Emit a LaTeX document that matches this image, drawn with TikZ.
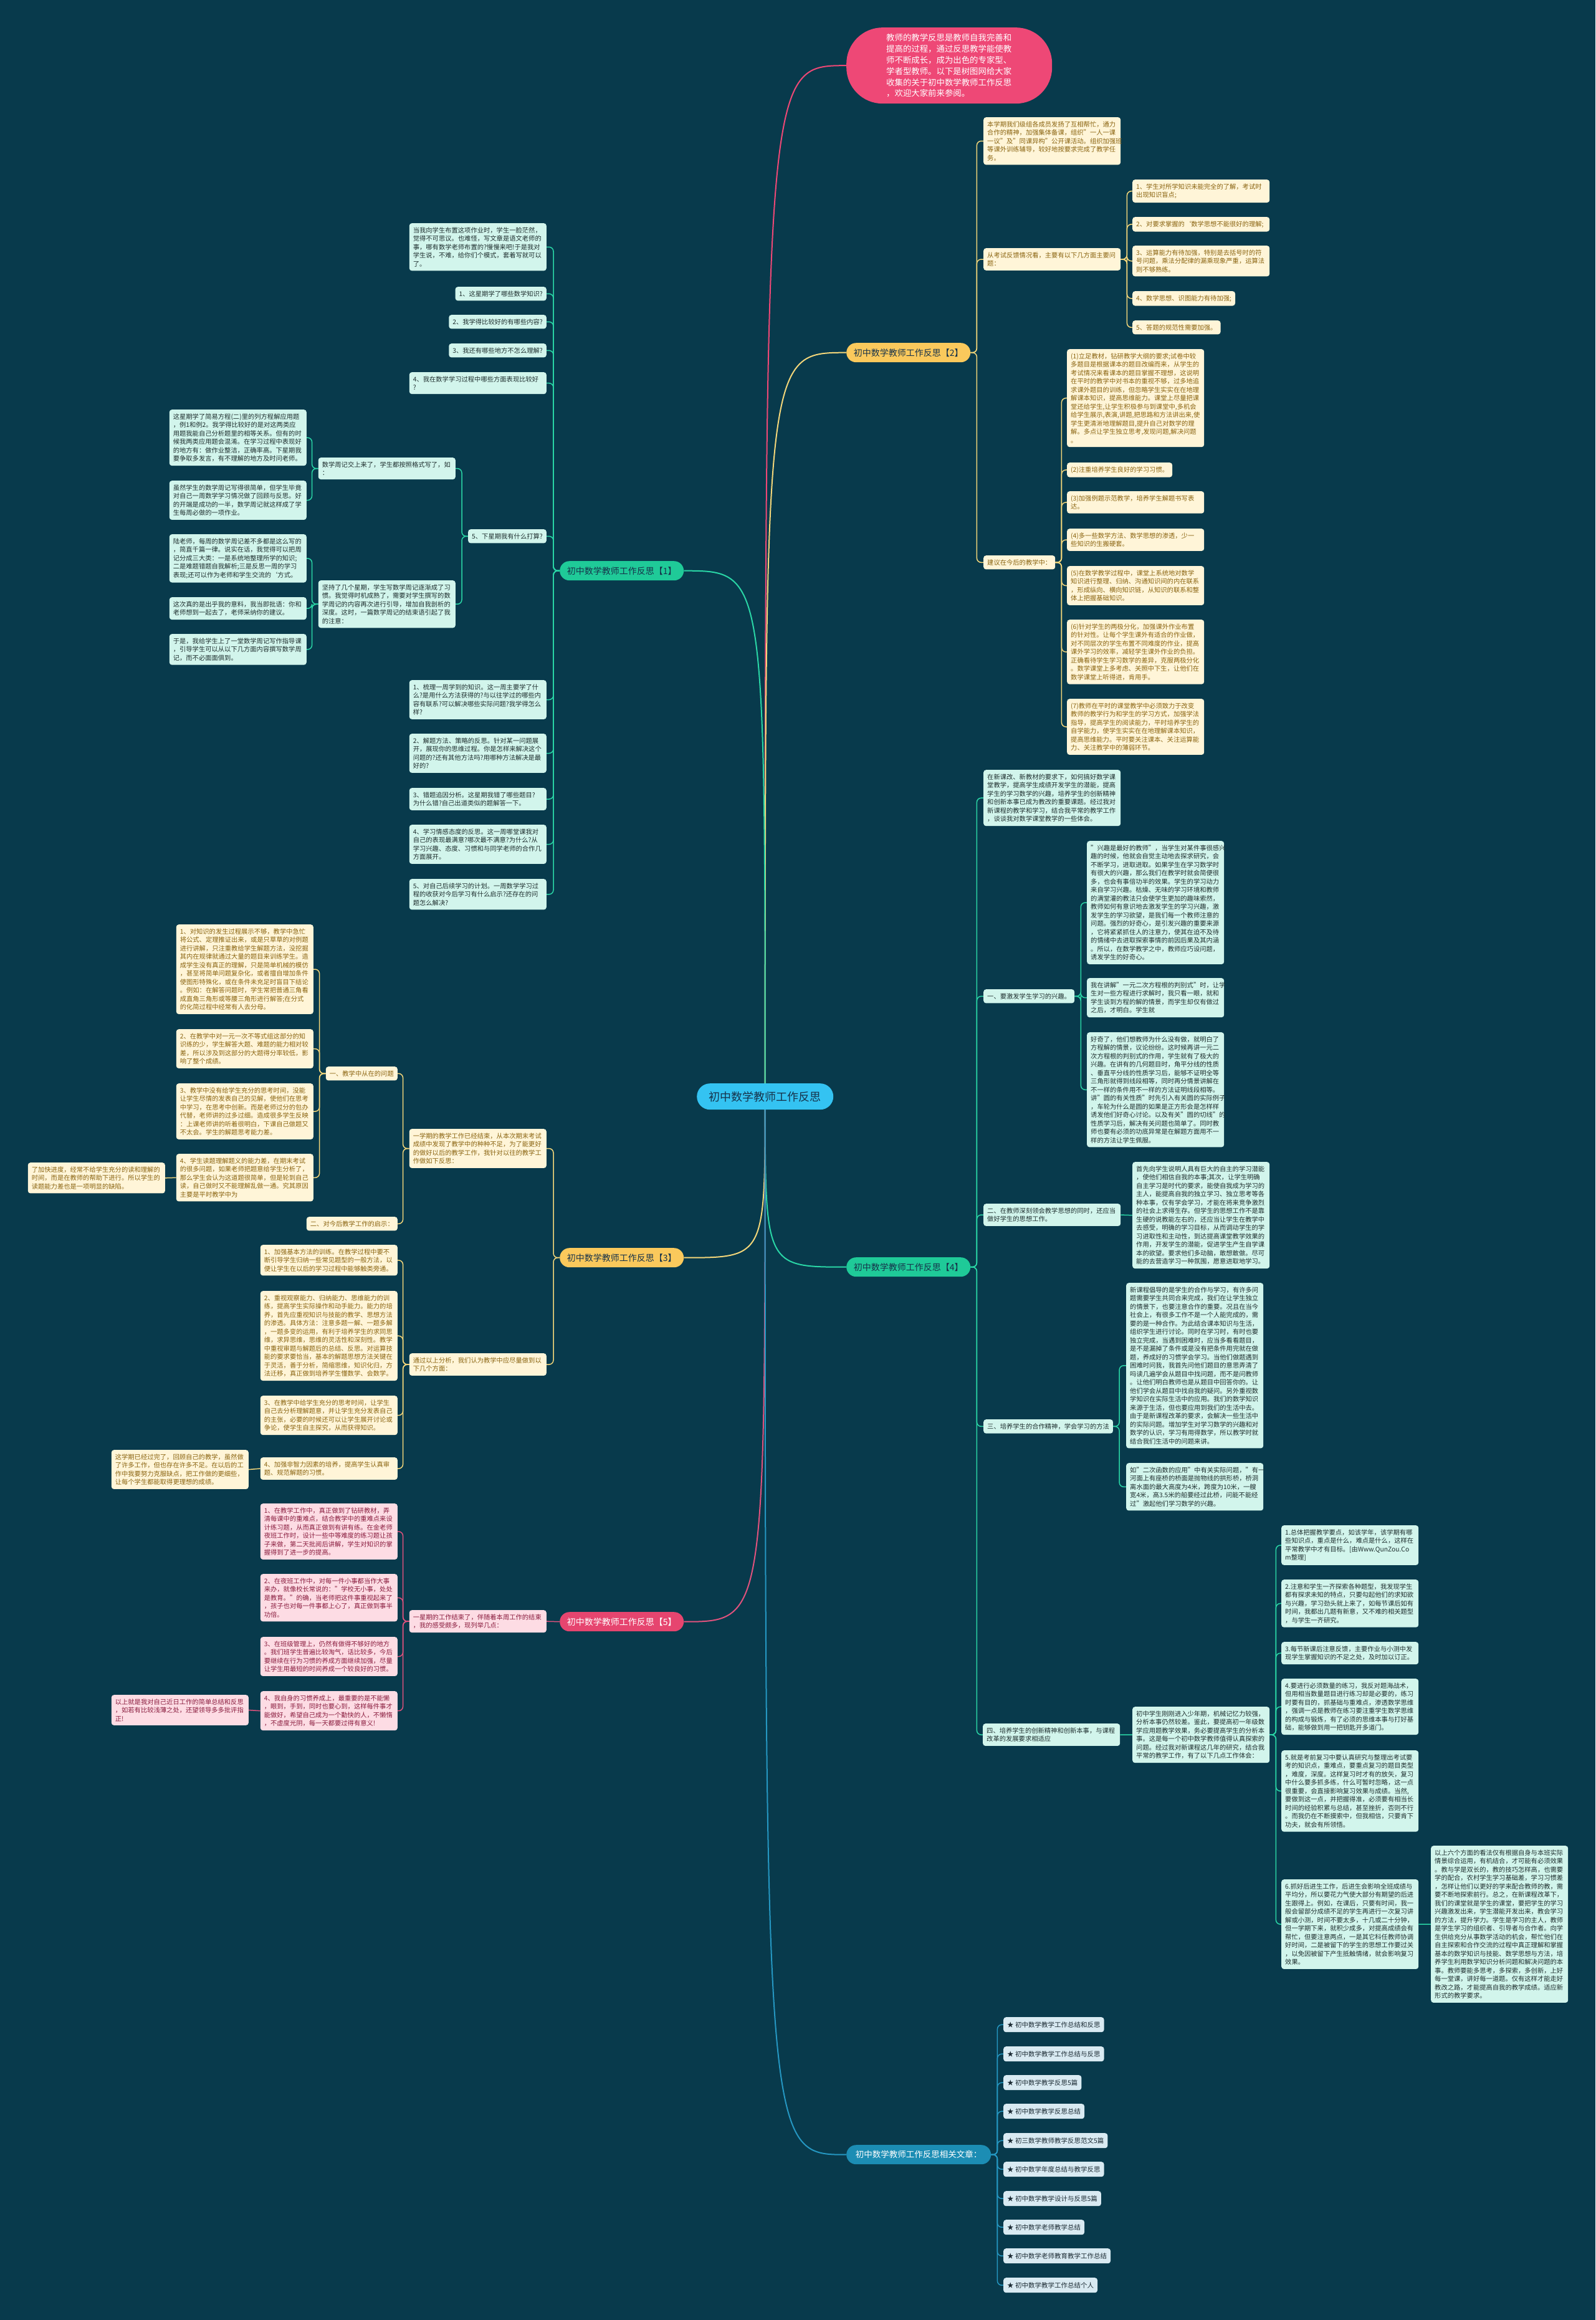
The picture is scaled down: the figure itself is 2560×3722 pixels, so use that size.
\documentclass[tikz,border=0pt]{standalone}
\usepackage{fontspec}
\setmainfont{Noto Sans CJK SC}
\usetikzlibrary{calc}
\definecolor{bgc}{HTML}{083A4C}
\definecolor{topc}{HTML}{EE4876}
\definecolor{rootc}{HTML}{34C3F2}
\definecolor{rootT}{HTML}{16324A}
\definecolor{grnN}{HTML}{1FCA98}
\definecolor{grnL}{HTML}{2AD6A6}
\definecolor{grnF}{HTML}{D2F5EC}
\definecolor{grnT}{HTML}{1E2E2E}
\definecolor{ylwN}{HTML}{FAC95C}
\definecolor{ylwL}{HTML}{F3D67A}
\definecolor{ylwF}{HTML}{FFF5D8}
\definecolor{ylwT}{HTML}{8A6410}
\definecolor{pnkN}{HTML}{E6456F}
\definecolor{pnkL}{HTML}{E0527D}
\definecolor{pnkF}{HTML}{FDDCE4}
\definecolor{pnkT}{HTML}{8A1C3E}
\definecolor{bluN}{HTML}{1C8DB4}
\definecolor{bluL}{HTML}{2597C2}
\definecolor{bluF}{HTML}{D9EAF2}
\definecolor{bluT}{HTML}{1B2A33}
\newcommand{\myfs}{\fontsize{10.3}{13.5}\selectfont}
\pgfdeclarelayer{bgl}
\pgfdeclarelayer{lnl}
\pgfsetlayers{bgl,lnl,main}
\newcommand{\conR}[3]{\draw[sub,#1] (#2.east) -- ++(10,0) |- (#3.west);}
\newcommand{\conL}[3]{\draw[sub,#1] (#2.west) -- ++(-10,0) |- (#3.east);}
\newcommand{\curveR}[2]{\draw[mainln,#1] (root.center) .. controls (root.center |- #2.west) .. (#2.west);}
\newcommand{\curveL}[2]{\draw[mainln,#1] (root.center) .. controls (root.center |- #2.east) .. (#2.east);}
\tikzset{
  sub/.style={line width=1.5pt, rounded corners=7pt},
  mainln/.style={line width=2pt},
  boxbase/.style={rounded corners=4pt, inner xsep=6pt, inner ysep=6.3pt, align=left, font=\myfs},
  gbx/.style={boxbase, fill=grnF, text=grnT, text width=208pt},
  gsb/.style={boxbase, fill=grnF, text=grnT},
  ybx/.style={boxbase, fill=ylwF, text=ylwT, text width=208pt},
  ysb/.style={boxbase, fill=ylwF, text=ylwT},
  pbx/.style={boxbase, fill=pnkF, text=pnkT, text width=208pt},
  psb/.style={boxbase, fill=pnkF, text=pnkT},
  bitem/.style={boxbase, fill=bluF, text=bluT, minimum height=24pt, inner ysep=4pt, font=\fontsize{10.5}{13}\selectfont},
  brn/.style={rounded corners=15.5pt, minimum height=31pt, minimum width=199pt, inner xsep=8pt, font=\fontsize{14}{16}\selectfont},
}
\begin{document}
\begin{tikzpicture}[x=1pt,y=-1pt]
\begin{pgfonlayer}{bgl}
\fill[bgc] (0,0) rectangle (2560,3722);
\end{pgfonlayer}
\useasboundingbox (0,0) rectangle (2560,3722);

% ---------- root and top ----------
\node[fill=rootc, text=rootT, rounded corners=21pt, minimum width=219pt, minimum height=42pt, font=\fontsize{18}{20}\selectfont, anchor=north west] (root) at (1118,1738) {初中数学教师工作反思};
\node[fill=topc, text=white, rounded corners=58pt, minimum width=330pt, minimum height=122pt, text width=202pt, align=left, font=\fontsize{13.4}{17.9}\selectfont, anchor=north west] (top) at (1358,44) {教师的教学反思是教师自我完善和\\提高的过程，通过反思教学能使教\\师不断成长，成为出色的专家型、\\学者型教师。以下是树图网给大家\\收集的关于初中数学教师工作反思\\，欢迎大家前来参阅。};

% ---------- branch nodes ----------
\node[brn, fill=grnN, text=rootT, anchor=north west] (b1) at (898,900) {初中数学教师工作反思【1】};
\node[brn, fill=ylwN, text=rootT, anchor=north west] (b2) at (1358,550) {初中数学教师工作反思【2】};
\node[brn, fill=ylwN, text=rootT, anchor=north west] (b3) at (898,2002) {初中数学教师工作反思【3】};
\node[brn, fill=grnN, text=rootT, anchor=north west] (b4) at (1358,2017) {初中数学教师工作反思【4】};
\node[brn, fill=pnkN, text=white, anchor=north west] (b5) at (898,2586) {初中数学教师工作反思【5】};
\node[brn, fill=bluN, text=white, minimum width=232pt, font=\fontsize{13.5}{16}\selectfont, anchor=north west] (rel) at (1358,3441) {初中数学教师工作反思相关文章：};

% ---------- branch 1 ----------
\node[gbx, anchor=north east] (c1a) at (877,358) {当我向学生布置这项作业时，学生一脸茫然，\\觉得不可思议。也难怪，写文章是语文老师的\\事，哪有数学老师布置的?慢慢来吧!于是我对\\学生说，不难，给你们个模式，套着写就可以\\了。};
\node[gsb, anchor=north east] (q1) at (877,460) {1、这星期学了哪些数学知识?};
\node[gsb, anchor=north east] (q2) at (877,505) {2、我学得比较好的有哪些内容?};
\node[gsb, anchor=north east] (q3) at (877,551) {3、我还有哪些地方不怎么理解?};
\node[gbx, anchor=north east] (q4) at (877,597) {4、我在数学学习过程中哪些方面表现比较好\\?};
\node[gsb, anchor=north east] (q5) at (877,849) {5、下星期我有什么打算?};
\node[gbx, anchor=north east] (zj) at (731,734) {数学周记交上来了，学生都按照格式写了，如\\：};
\node[gbx, anchor=north east] (jc) at (731,931) {坚持了几个星期，学生写数学周记逐渐成了习\\惯。我觉得时机成熟了，需要对学生撰写的数\\学周记的内容再次进行引导，增加自我剖析的\\深度。这时，一篇数学周记的结束语引起了我\\的注意：};
\node[gbx, anchor=north east] (a1) at (492,657) {这星期学了简易方程(二)里的列方程解应用题\\，例1和例2。我学得比较好的是对这两类应\\用题我能自己分析题里的相等关系。但有的时\\候我两类应用题会混淆。在学习过程中表现好\\的地方有：做作业整洁，正确率高。下星期我\\要争取多发言，有不理解的地方及时问老师。};
\node[gbx, anchor=north east] (a2) at (492,771) {虽然学生的数学周记写得很简单，但学生毕竟\\对自己一周数学学习情况做了回顾与反思。好\\的开端是成功的一半，数学周记就这样成了学\\生每周必做的一项作业。};
\node[gbx, anchor=north east] (d1) at (492,857) {陆老师，每周的数学周记差不多都是这么写的\\，简直千篇一律。说实在话，我觉得可以把周\\记分成三大类：一是系统地整理所学的知识;\\二是难题错题自我解析;三是反思一周的学习\\表现;还可以作为老师和学生交流的`方式。};
\node[gbx, anchor=north east] (d2) at (492,958) {这次真的是出乎我的意料，我当即批语：你和\\老师想到一起去了，老师采纳你的建议。};
\node[gbx, anchor=north east] (d3) at (492,1017) {于是，我给学生上了一堂数学周记写作指导课\\，引导学生可以从以下几方面内容撰写数学周\\记，而不必面面俱到。};
\node[gbx, anchor=north east] (s1) at (877,1091) {1、梳理一周学到的知识。这一周主要学了什\\么?是用什么方法获得的?与以往学过的哪些内\\容有联系?可以解决哪些实际问题?我学得怎么\\样?};
\node[gbx, anchor=north east] (s2) at (877,1177) {2、解题方法、策略的反思。针对某一问题展\\开，展现你的思维过程。你是怎样来解决这个\\问题的?还有其他方法吗?用哪种方法解决是最\\好的?};
\node[gbx, anchor=north east] (s3) at (877,1264) {3、错题追因分析。这星期我错了哪些题目?\\为什么错?自己出道类似的题解答一下。};
\node[gbx, anchor=north east] (s4) at (877,1323) {4、学习情感态度的反思。这一周哪堂课我对\\自己的表现最满意?哪次最不满意?为什么?从\\学习兴趣、态度、习惯和与同学老师的合作几\\方面展开。};
\node[gbx, anchor=north east] (s5) at (877,1410) {5、对自己后续学习的计划。一周数学学习过\\程的收获对今后学习有什么启示?还存在的问\\题怎么解决?};

% ---------- branch 2 ----------
\node[ybx, anchor=north west] (bx) at (1578,188) {本学期我们级组各成员发扬了互相帮忙，通力\\合作的精神，加强集体备课，组织"一人一课\\一议"及"同课异构"公开课活动。组织加强班\\等课外训练辅导，较好地按要求完成了教学任\\务。};
\node[ybx, anchor=north west] (ks) at (1578,398) {从考试反馈情况看，主要有以下几方面主要问\\题：};
\node[ybx, anchor=north west] (k1) at (1817,288) {1、学生对所学知识未能完全的了解，考试时\\出现知识盲点;};
\node[ybx, anchor=north west] (k2) at (1817,348) {2、对要求掌握的`数学思想不能很好的理解;};
\node[ybx, anchor=north west] (k3) at (1817,394) {3、运算能力有待加强，特别是去括号时的符\\号问题，乘法分配律的漏乘现象严重，运算法\\则不够熟练。};
\node[ysb, anchor=north west] (k4) at (1817,467) {4、数学思想、识图能力有待加强;};
\node[ysb, anchor=north west] (k5) at (1817,514) {5、答题的规范性需要加强。};
\node[ysb, anchor=north west] (jy) at (1578,891) {建议在今后的教学中：};
\node[ybx, anchor=north west] (j1) at (1712,560) {(1)立足教材，钻研教学大纲的要求;试卷中较\\多题目是根据课本的题目改编而来，从学生的\\考试情况来看课本的题目掌握不理想，这说明\\在平时的教学中对书本的重视不够，过多地追\\求课外题目的训练，但忽略学生实实在在地理\\解课本知识，提高思维能力。课堂上尽量把课\\堂还给学生,让学生积极参与到课堂中,多机会\\给学生展示,表演,讲题,把思路和方法讲出来,使\\学生更清淅地理解题目,提升自己对数学的理\\解。多点让学生独立思考,发现问题,解决问题\\。};
\node[ysb, anchor=north west] (j2) at (1712,742) {(2)注重培养学生良好的学习习惯。};
\node[ybx, anchor=north west] (j3) at (1712,788) {(3)加强例题示范教学，培养学生解题书写表\\达。};
\node[ybx, anchor=north west] (j4) at (1712,848) {(4)多一些数学方法、数学思想的渗透，少一\\些知识的生搬硬套。};
\node[ybx, anchor=north west] (j5) at (1712,908) {(5)在数学教学过程中，课堂上系统地对数学\\知识进行整理、归纳、沟通知识间的内在联系\\，形成纵向、横向知识链，从知识的联系和整\\体上把握基础知识。};
\node[ybx, anchor=north west] (j6) at (1712,994) {(6)针对学生的两极分化，加强课外作业布置\\的针对性。让每个学生课外有适合的作业做，\\对不同层次的学生布置不同难度的作业，提高\\课外学习的效率，减轻学生课外作业的负担。\\正确看待学生学习数学的差异，克服两极分化\\。数学课堂上多考虑、关照中下生，让他们在\\数学课堂上听得进，肯用手。};
\node[ybx, anchor=north west] (j7) at (1712,1121) {(7)教师在平时的课堂教学中必须致力于改变\\教师的教学行为和学生的学习方式，加强学法\\指导，提高学生的阅读能力，平时培养学生的\\自学能力，使学生实实在在地理解课本知识，\\提高思维能力。平时要关注课本、关注运算能\\力、关注教学中的薄弱环节。};

% ---------- branch 3 ----------
\node[ybx, anchor=north east] (yx) at (877,1811) {一学期的教学工作已经结束，从本次期末考试\\成绩中发现了教学中的种种不足，为了能更好\\的做好以后的教学工作，我针对以往的教学工\\作做如下反思：};
\node[ysb, anchor=north east] (w1) at (638,1711) {一、教学中从在的问题};
\node[ysb, anchor=north east] (w2) at (638,1952) {二、对今后教学工作的启示：};
\node[ybx, anchor=north east] (p1) at (503,1483) {1、对知识的发生过程展示不够，教学中急忙\\将公式、定理推证出来，或是只草草的对例题\\进行讲解，只注重教给学生解题方法，没挖掘\\其内在规律就通过大量的题目来训练学生。造\\成学生没有真正的理解，只是简单机械的模仿\\，甚至将简单问题复杂化，或者擅自增加条件\\使图形特殊化，或在条件未充足时盲目下结论\\。例如：在解答问题时，学生常把普通三角看\\成直角三角形或等腰三角形进行解答;在分式\\的化简过程中经常有人去分母。};
\node[ybx, anchor=north east] (p2) at (503,1651) {2、在教学中对一元一次不等式组这部分的知\\识练的少，学生解答大题、难题的能力相对较\\差，所以涉及到这部分的大题得分率较低，影\\响了整个成绩。};
\node[ybx, anchor=north east] (p3) at (503,1738) {3、教学中没有给学生充分的思考时间，没能\\让学生尽情的发表自己的见解，使他们在思考\\中学习，在思考中创新。而是老师过分的包办\\代替，老师讲的过多过细。造成很多学生反映\\：上课老师讲的听着很明白，下课自己做题又\\不太会。学生的解题思考能力差。};
\node[ybx, anchor=north east] (p4) at (503,1851) {4、学生读题理解题义的能力差，在期末考试\\的很多问题，如果老师把题意给学生分析了，\\那么学生会认为这道题很简单，但是轮到自己\\读，自己做时又不能理解乱做一通。究其原因\\主要是平时教学中为};
\node[ybx, anchor=north east] (jk) at (265,1865) {了加快进度，经常不给学生充分的读和理解的\\时间，而是在教师的帮助下进行。所以学生的\\读题能力差也是一项明显的缺陷。};
\node[ybx, anchor=north east] (tg) at (877,2171) {通过以上分析，我们认为教学中应尽量做到以\\下几个方面：};
\node[ybx, anchor=north east] (r1) at (638,1997) {1、加强基本方法的训练。在教学过程中要不\\断引导学生归纳一些常见题型的一般方法，以\\便让学生在以后的学习过程中能够触类旁通。};
\node[ybx, anchor=north east] (r2) at (638,2071) {2、重视观察能力、归纳能力、思维能力的训\\练，提高学生实际操作和动手能力。能力的培\\养，首先应重视知识与技能的教学、思想方法\\的渗透。具体方法：注意多题一解、一题多解\\，一题多变的运用，有利于培养学生的求同思\\维，求异思维，思维的灵活性和深刻性。教学\\中重视审题与解题后的总结、反思。对运算技\\能的要求要恰当，基本的解题思想方法关键在\\于灵活，善于分析，简缩思维，知识化归，方\\法迁移，真正做到培养学生懂数学、会数学。};
\node[ybx, anchor=north east] (r3) at (638,2239) {3、在教学中给学生充分的思考时间，让学生\\自己去分析理解题意，并让学生充分发表自己\\的主张，必要的时候还可以让学生展开讨论或\\争论，使学生自主探究，从而获得知识。};
\node[ybx, anchor=north east] (r4) at (638,2338) {4、加强非智力因素的培养，提高学生认真审\\题、规范解题的习惯。};
\node[ybx, anchor=north east] (zx) at (399,2326) {这学期已经过完了，回顾自己的教学，虽然做\\了许多工作，但也存在许多不足。在以后的工\\作中我要努力克服缺点，把工作做的更细些，\\让每个学生都能取得更理想的成绩。};

% ---------- branch 5 ----------
\node[pbx, anchor=north east] (yxq) at (877,2583) {一星期的工作结束了，伴随着本周工作的结束\\，我的感受颇多，现列举几点：};
\node[pbx, anchor=north east] (t1) at (638,2412) {1、在教学工作中，真正做到了钻研教材，弄\\清每课中的重难点，结合教学中的重难点来设\\计练习题，从而真正做到有讲有练。在金老师\\夜班工作时，设计一些中等难度的练习题让孩\\子来做，第二天批阅后讲解，学生对知识的掌\\握得到了进一步的提高。};
\node[pbx, anchor=north east] (t2) at (638,2525) {2、在夜班工作中，对每一件小事都当作大事\\来办，就像校长常说的："学校无小事，处处\\是教育。"的确，当老师把这件事重视起来了\\，孩子也对每一件事都上心了，真正做到事半\\功倍。};
\node[pbx, anchor=north east] (t3) at (638,2626) {3、在班级管理上，仍然有做得不够好的地方\\。我们班学生普遍比较淘气，话比较多，今后\\要继续在行为习惯的养成方面继续加强，尽量\\让学生用最短的时间养成一个较良好的习惯。};
\node[pbx, anchor=north east] (t4) at (638,2713) {4、我自身的习惯养成上，最重要的是不能懒\\，眼到，手到，同时也要心到，这样每件事才\\能做好，希望自己成为一个勤快的人，不懒惰\\，不虚度光阴，每一天都要过得有意义!};
\node[pbx, anchor=north east] (ys) at (399,2719) {以上就是我对自己近日工作的简单总结和反思\\，如若有比较浅薄之处，还望领导多多批评指\\正!};

% ---------- branch 4 ----------
\node[gbx, anchor=north west] (xk) at (1578,1235) {在新课改、新教材的要求下，如何搞好数学课\\堂教学，提高学生成绩开发学生的潜能，提高\\学生的学习数学的兴趣，培养学生的创新精神\\和创新本事已成为教改的重要课题。经过我对\\新课程的教学和学习，结合我平常的教学工作\\，谈谈我对数学课堂教学的一些体会。};
\node[gsb, anchor=north west] (h1) at (1578,1587) {一、要激发学生学习的兴趣。};
\node[gbx, anchor=north west] (xq) at (1744,1349) {"兴趣是最好的教师"，当学生对某件事很感兴\\趣的时候，他就会自觉主动地去探求研究，会\\不断学习，进取进取。如果学生在学习数学时\\有很大的兴趣，那么我们在教学时就会简便很\\多，也会有事倍功半的效果。学生的学习动力\\来自学习兴趣。枯燥、无味的学习环境和教师\\的满堂灌的教法只会使学生更加的趣味索然，\\教师如何有意识地去激发学生的学习兴趣，激\\发学生的学习欲望，是我们每一个教师注意的\\问题。强烈的好奇心，是引发兴趣的重要来源\\，它将紧紧抓住人的注意力，使其在迫不及待\\的情绪中去进取探索事情的前因后果及其内涵\\。所以，在数学教学之中，教师应巧设问题，\\诱发学生的好奇心。};
\node[gbx, anchor=north west] (jj) at (1744,1569) {我在讲解"一元二次方程根的判别式"时，让学\\生对一些方程进行求解时，我只看一眼，就和\\学生谈到方程的解的情景，而学生却仅有做过\\之后，才明白。学生就};
\node[gbx, anchor=north west] (hq) at (1744,1656) {好奇了，他们想教师为什么没有做，就明白了\\方程解的情景，议论纷纷。这时候再讲一元二\\次方程根的判别式的作用，学生就有了极大的\\兴趣。在讲有的几何题目时，角平分线的性质\\、垂直平分线的性质学习后，能够不证明全等\\三角形就得到线段相等，同时再分情景讲解在\\不一样的条件用不一样的方法证明线段相等。\\讲"圆的有关性质"时先引入有关圆的实际例子\\，车轮为什么是圆的如果是正方形会是怎样样\\诱发他们好奇心讨论。以及有关"圆的切线"的\\性质学习后，解决有关问题也简单了。同时教\\师也要有必须的功底异常是在解题方面用不一\\样的方法让学生佩服。};
\node[gbx, anchor=north west] (h2) at (1578,1931) {二、在教师深刻领会教学思想的同时，还应当\\做好学生的思想工作。};
\node[gbx, anchor=north west] (sx) at (1817,1864) {首先向学生说明人具有巨大的自主的学习潜能\\，使他们相信自我的本事;其次，让学生明确\\自主学习是时代的要求，能使自我成为学习的\\主人，能提高自我的独立学习、独立思考等各\\种本事，仅有学会学习，才能在将来竞争激烈\\的社会上求得生存。但学生的思想工作不是靠\\生硬的说教能左右的，还应当让学生在教学中\\去感受，明确的学习目标，从而调动学生的学\\习进取性和主动性，到达提高课堂教学效果的\\作用，开发学生的潜能，促进学生产生自学课\\本的欲望。要求他们多动脑，敢想敢做。尽可\\能的去营造学习一种氛围，愿意进取地学习。};
\node[gsb, anchor=north west] (h3) at (1578,2277) {三、培养学生的合作精神，学会学习的方法};
\node[gbx, anchor=north west] (xkc) at (1807,2058) {新课程倡导的是学生的合作与学习，有许多问\\题需要学生共同合来完成，我们在让学生独立\\的情景下，也要注意合作的重要。况且在当今\\社会上，有很多工作不是一个人能完成的，需\\要的是一种合作。为此结合课本知识与生活，\\组织学生进行讨论。同时在学习时，有时也要\\独立完成，当遇到困难时，应当多看看题目，\\是不是漏掉了条件或是没有把条件用完就在做\\题，养成好的习惯学会学习。当他们做题遇到\\困难时问我，我首先问他们题目的意思弄清了\\吗读几遍学会从题目中找问题，而不是问教师\\。让他们明白教师也是从题目中回答你的。让\\他们学会从题目中找自我的疑问。另外重视数\\学知识在实际生活中的应用。我们的数学知识\\来源于生活，但也要应用到我们的生活中去。\\由于是新课程改革的要求，会解决一些生活中\\的实际问题。增加学生对学习数学的兴趣和对\\数学的认识，学习有用得数学，所以教学时就\\结合我们生活中的问题来讲。};
\node[gbx, anchor=north west] (ec) at (1807,2347) {如"二次函数的应用"中有关实际问题，"有一\\河面上有座桥的桥面是抛物线的拱形桥，桥洞\\离水面的最大高度为4米，跨度为10米，一艘\\宽4米，高3.5米的船要经过此桥，问能不能经\\过"激起他们学习数学的兴趣。};
\node[gbx, anchor=north west] (h4) at (1577,2765) {四、培养学生的创新精神和创新本事，与课程\\改革的发展要求相适应};
\node[gbx, anchor=north west] (cz) at (1817,2738) {初中学生刚刚进入少年期，机械记忆力较强，\\分析本事仍然较差。鉴此，要提高初一年级数\\学应用题教学效果，务必要提高学生的分析本\\事。这是每一个初中数学教师值得认真探索的\\问题。经过我对新课程这几年的研究，结合我\\平常的教学工作，有了以下几点工作体会：};
\node[gbx, anchor=north west] (f1) at (2056,2447) {1.总体把握教学要点，如该学年，该学期有哪\\些知识点，重点是什么，难点是什么，这样在\\平常教学中才有目标。[由Www.QunZou.Co\\m整理]};
\node[gbx, anchor=north west] (f2) at (2056,2534) {2.注意和学生一齐探索各种题型，我发现学生\\都有探求未知的特点，只要勾起他们的求知欲\\与兴趣，学习劲头就上来了，如每节课后如有\\时间，我都出几题有新意，又不难的相关题型\\，与学生一齐研究。};
\node[gbx, anchor=north west] (f3) at (2056,2634) {3.每节新课后注意反馈，主要作业与小测中发\\现学生掌握知识的不足之处，及时加以订正。};
\node[gbx, anchor=north west] (f4) at (2056,2693) {4.要进行必须数量的练习，我反对题海战术，\\但用相当数量题目进行练习却是必要的，练习\\时要有目的，抓基础与重难点，渗透数学思维\\，强调一点是教师在练习要注重学生数学思维\\的构成与锻炼，有了必须的思维本事与打好基\\础，能够做到用一把钥匙开多道门。};
\node[gbx, anchor=north west] (f5) at (2056,2808) {5.就是考前复习中要认真研究与整理出考试要\\考的知识点，重难点，要重点复习的题目类型\\，难度，深度。这样复习时才有的放矢，复习\\中什么要多抓多练，什么可暂时忽略，这一点\\很重要，会直接影响复习效果与成绩。当然,\\要做到这一点，并把握得准，必须要有相当长\\时间的经验积累与总结，甚至挫折，否则不行\\。而我仍在不断摸索中，但我相信，只要肯下\\功夫，就会有所领悟。};
\node[gbx, anchor=north west] (f6) at (2056,3015) {6.抓好后进生工作，后进生会影响全班成绩与\\平均分，所以要花力气使大部分有期望的后进\\生跟得上。例如，在课后，只要有时间，我一\\般会留部分成绩不足的学生再进行一次复习讲\\解或小测，时间不要太多，十几或二十分钟，\\但一学期下来，就积少成多，对提高成绩会有\\帮忙，但要注意两点，一是其它科任教师协调\\好时间，二是被留下的学生的思想工作要过关\\，以免因被留下产生抵触情绪，就会影响复习\\效果。};
\node[gbx, anchor=north west] (ls) at (2296,2961) {以上六个方面的看法仅有根据自身与本班实际\\情景综合运用，有机结合，才可能有必须效果\\。教与学是双长的，教的技巧怎样高，也需要\\学的配合，农村学生学习基础差，学习习惯差\\，怎样让他们以更好的学来配合教师的教，需\\要不断地探索前行。总之，在新课程改革下，\\我们的课堂就是学生的课堂，要把学生的学习\\兴趣激发出来，学生潜能开发出来，教会学习\\的方法，提升学力。学生是学习的主人，教师\\是学生学习的组织者、引导者与合作者。向学\\生供给充分从事数学活动的机会，帮忙他们在\\自主探索和合作交流的过程中真正理解和掌握\\基本的数学知识与技能、数学思想与方法，培\\养学生利用数学知识分析问题和解决问题的本\\事。教师要能多思考，多探索，多创新，上好\\每一堂课，讲好每一道题。仅有这样才能走好\\教改之路，才能提高自我的教学成绩。适应新\\形式的教学要求。};

% ---------- related ----------
\node[bitem, anchor=north west] (i1) at (1610,3236) {★ 初中数学教学工作总结和反思};
\node[bitem, anchor=north west] (i2) at (1610,3283) {★ 初中数学教学工作总结与反思};
\node[bitem, anchor=north west] (i3) at (1610,3329) {★ 初中数学教学反思5篇};
\node[bitem, anchor=north west] (i4) at (1610,3375) {★ 初中数学教学反思总结};
\node[bitem, anchor=north west] (i5) at (1610,3422) {★ 初三数学教师教学反思范文5篇};
\node[bitem, anchor=north west] (i6) at (1610,3468) {★ 初中数学年度总结与教学反思};
\node[bitem, anchor=north west] (i7) at (1610,3515) {★ 初中数学教学设计与反思5篇};
\node[bitem, anchor=north west] (i8) at (1610,3561) {★ 初中数学老师教学总结};
\node[bitem, anchor=north west] (i9) at (1610,3607) {★ 初中数学老师教育教学工作总结};
\node[bitem, anchor=north west] (i10) at (1610,3654) {★ 初中数学教学工作总结个人};

% ---------- connectors ----------
\begin{pgfonlayer}{lnl}
\curveR{topc}{top}
\curveR{ylwL}{b2}
\curveL{grnL}{b1}
\curveL{ylwL}{b3}
\curveR{grnL}{b4}
\curveL{pnkL}{b5}
\curveR{bluL}{rel}
% branch 1
\foreach \c in {c1a,q1,q2,q3,q4,q5,s1,s2,s3,s4,s5} {\conL{grnL}{b1}{\c}}
\foreach \c in {zj,jc} {\conL{grnL}{q5}{\c}}
\foreach \c in {a1,a2} {\conL{grnL}{zj}{\c}}
\foreach \c in {d1,d2,d3} {\conL{grnL}{jc}{\c}}
% branch 2
\foreach \c in {bx,ks,jy} {\conR{ylwL}{b2}{\c}}
\foreach \c in {k1,k2,k3,k4,k5} {\conR{ylwL}{ks}{\c}}
\foreach \c in {j1,j2,j3,j4,j5,j6,j7} {\conR{ylwL}{jy}{\c}}
% branch 3
\foreach \c in {yx,tg} {\conL{ylwL}{b3}{\c}}
\foreach \c in {w1,w2} {\conL{ylwL}{yx}{\c}}
\foreach \c in {p1,p2,p3,p4} {\conL{ylwL}{w1}{\c}}
\draw[sub,ylwL] (p4.west) -- (jk.east);
\foreach \c in {r1,r2,r3,r4} {\conL{ylwL}{tg}{\c}}
\draw[sub,ylwL] (r4.west) -- (zx.east);
% branch 5
\draw[sub,pnkL] (b5.west) -- (yxq.east);
\foreach \c in {t1,t2,t3,t4} {\conL{pnkL}{yxq}{\c}}
\draw[sub,pnkL] (t4.west) -- (ys.east);
% branch 4
\foreach \c in {xk,h1,h2,h3,h4} {\conR{grnL}{b4}{\c}}
\foreach \c in {xq,jj,hq} {\conR{grnL}{h1}{\c}}
\draw[sub,grnL] (h2.east) -- (sx.west);
\foreach \c in {xkc,ec} {\conR{grnL}{h3}{\c}}
\draw[sub,grnL] (h4.east) -- (cz.west);
\foreach \c in {f1,f2,f3,f4,f5,f6} {\conR{grnL}{cz}{\c}}
\draw[sub,grnL] (f6.east) -- (ls.west);
% related
\foreach \c in {i1,i2,i3,i4,i5,i6,i7,i8,i9,i10} {\conR{bluL}{rel}{\c}}
\end{pgfonlayer}
\end{tikzpicture}
\end{document}
